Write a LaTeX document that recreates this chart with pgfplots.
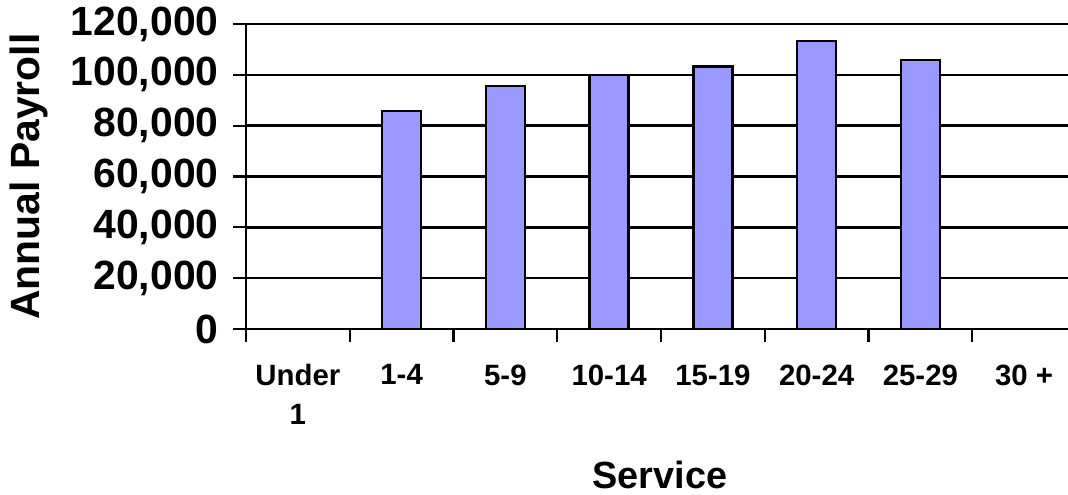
\documentclass[border=0pt]{standalone}
\usepackage{pgfplots}
\pgfplotsset{compat=1.18}
\usepackage{fontspec}
\setmainfont{Liberation Sans}
\definecolor{barfill}{HTML}{9999FF}
\pgfplotstableread{
x val
1 85800
2 95700
3 100000
4 103300
5 113300
6 105800
}\payroll
\begin{document}
\begin{tikzpicture}
\useasboundingbox (-246bp,-166bp) rectangle (822bp,329bp);
\clip (-246bp,-166bp) rectangle (822bp,329bp);
\begin{axis}[
  at={(0,0)}, anchor=south west,
  scale only axis,
  width=830bp, height=305bp,
  xmin=-0.5, xmax=7.5,
  ymin=0, ymax=120000,
  axis x line*=bottom, axis y line*=left,
  axis line style={line width=2.5bp, black},
  ytick={0,20000,40000,60000,80000,100000,120000},
  yticklabels={0,{20,000},{40,000},{60,000},{80,000},{100,000},{120,000}},
  scaled y ticks=false,
  ymajorgrids,
  major grid style={line width=2.4bp, black},
  xtick={-0.5,0.5,...,7.5},
  xticklabels={{Under\\1},1-4,5-9,10-14,15-19,20-24,25-29,30 +,{}},
  major tick length=13bp,
  tick align=outside,
  tick style={line width=2.2bp, black},
  xticklabel style={align=center, font=\fontsize{29.5}{39}\selectfont\bfseries, yshift=-19bp, xshift=51.875bp},
  yticklabel style={font=\fontsize{41}{41}\selectfont\bfseries, xshift=-11bp},
  ylabel={Annual Payroll},
  xlabel={Service},
  ylabel style={at={(axis description cs:-0.2615,0.5)}, anchor=center, font=\fontsize{41}{41}\selectfont\bfseries},
  xlabel style={at={(axis description cs:0.4988,-0.477)}, anchor=center, font=\fontsize{38}{38}\selectfont\bfseries},
]
\addplot[ybar, bar width=39bp, fill=barfill, draw=black, line width=2.4bp] table[x=x, y=val] {\payroll};
\end{axis}
\end{tikzpicture}
\end{document}
